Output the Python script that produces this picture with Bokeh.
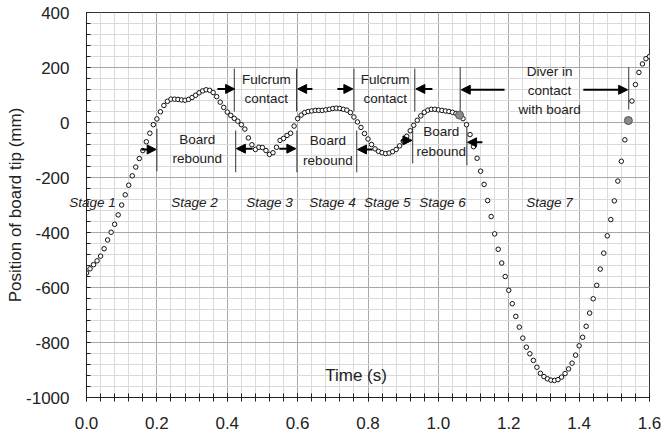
from bokeh.plotting import figure
from bokeh.models import (Range1d, SingleIntervalTicker, FixedTicker, LinearAxis,
                          Arrow, NormalHead)
from bokeh.core.properties import value
from bokeh.embed import file_html
from bokeh.resources import INLINE

# ---- data ----
time_s = [0.00, 0.01, 0.02, 0.03, 0.04, 0.05, 0.06, 0.07, 0.08, 0.09,
          0.10, 0.11, 0.12, 0.13, 0.14, 0.15, 0.16, 0.17, 0.18, 0.19,
          0.20, 0.21, 0.22, 0.23, 0.24, 0.25, 0.26, 0.27, 0.28, 0.29,
          0.30, 0.31, 0.32, 0.33, 0.34, 0.35, 0.36, 0.37, 0.38, 0.39,
          0.40, 0.41, 0.42, 0.43, 0.44, 0.45, 0.46, 0.47, 0.48, 0.49,
          0.50, 0.51, 0.52, 0.53, 0.54, 0.55, 0.56, 0.57, 0.58, 0.59,
          0.60, 0.61, 0.62, 0.63, 0.64, 0.65, 0.66, 0.67, 0.68, 0.69,
          0.70, 0.71, 0.72, 0.73, 0.74, 0.75, 0.76, 0.77, 0.78, 0.79,
          0.80, 0.81, 0.82, 0.83, 0.84, 0.85, 0.86, 0.87, 0.88, 0.89,
          0.90, 0.91, 0.92, 0.93, 0.94, 0.95, 0.96, 0.97, 0.98, 0.99,
          1.00, 1.01, 1.02, 1.03, 1.04, 1.05, 1.06, 1.07, 1.08, 1.09,
          1.10, 1.11, 1.12, 1.13, 1.14, 1.15, 1.16, 1.17, 1.18, 1.19,
          1.20, 1.21, 1.22, 1.23, 1.24, 1.25, 1.26, 1.27, 1.28, 1.29,
          1.30, 1.31, 1.32, 1.33, 1.34, 1.35, 1.36, 1.37, 1.38, 1.39,
          1.40, 1.41, 1.42, 1.43, 1.44, 1.45, 1.46, 1.47, 1.48, 1.49,
          1.50, 1.51, 1.52, 1.53, 1.54, 1.55, 1.56, 1.57, 1.58, 1.59,
          1.60]
position_mm = [-547, -532, -517, -503, -486, -459, -427, -399, -370, -336,
               -300, -263, -228, -194, -162, -131, -102, -70, -39, -8,
               13, 39, 62, 77, 85, 85, 84, 82, 81, 84,
               91, 99, 108, 115, 119, 117, 109, 94, 74, 55,
               38, 26, 15, 5, -8, -24, -56, -81, -98, -90,
               -91, -102, -116, -110, -90, -65, -58, -47, -39, -13,
               14, 27, 36, 40, 42, 44, 44, 44, 46, 48,
               51, 52, 51, 48, 45, 36, 20, 2, -18, -40,
               -60, -80, -96, -105, -110, -113, -111, -106, -98, -85,
               -68, -50, -30, -10, 8, 24, 37, 45, 48, 48,
               46, 44, 42, 40, 37, 33, 27, 14, -8, -44,
               -88, -130, -177, -225, -284, -342, -405, -461, -511, -560,
               -610, -659, -705, -744, -784, -817, -841, -865, -890, -912,
               -924, -932, -937, -938, -935, -926, -913, -896, -875, -846,
               -812, -781, -741, -693, -641, -592, -533, -475, -412, -353,
               -285, -213, -141, -63, 7, 78, 138, 182, 213, 232,
               240]
contact_time = [1.06, 1.54]
contact_pos = [27, 7]

x_tick_values = [0.0, 0.2, 0.4, 0.6, 0.8, 1.0, 1.2, 1.4, 1.6]
x_tick_labels = ["0.0", "0.2", "0.4", "0.6", "0.8", "1.0", "1.2", "1.4", "1.6"]
y_tick_values = [400, 200, 0, -200, -400, -600, -800, -1000]
y_tick_labels = ["400", "200", "0", "-200", "-400", "-600", "-800", "-1000"]

stage_names = ["Stage 2", "Stage 3", "Stage 4", "Stage 5", "Stage 6", "Stage 7"]

FONT = "Liberation Sans"
TXT = "#222222"

p = figure(width=661, height=434, x_range=Range1d(0, 1.6), y_range=Range1d(-1000, 400),
           output_backend="svg", toolbar_location=None,
           min_border_left=86, min_border_right=12, min_border_top=12, min_border_bottom=37)
p.background_fill_color = "white"
p.border_fill_color = "white"
p.outline_line_color = "#333333"
p.outline_line_width = 1

p.xaxis.ticker = SingleIntervalTicker(interval=0.2, num_minor_ticks=5)
p.yaxis.ticker = SingleIntervalTicker(interval=200, num_minor_ticks=5)
p.xgrid.ticker = p.xaxis.ticker
p.ygrid.ticker = p.yaxis.ticker
p.xaxis.major_label_overrides = dict(zip(x_tick_values, x_tick_labels))
p.yaxis.major_label_overrides = dict(zip(y_tick_values, y_tick_labels))

for g in (p.xgrid, p.ygrid):
    g.grid_line_color = "#a8a8a8"
    g.grid_line_width = 1
    g.minor_grid_line_color = "#dadada"
    g.minor_grid_line_width = 1

for ax in (p.xaxis, p.yaxis):
    ax.axis_line_color = "#222222"
    ax.major_tick_line_color = "#222222"
    ax.minor_tick_line_color = "#222222"
    ax.major_label_text_font = FONT
    ax.major_label_text_font_size = "17px"
    ax.major_label_text_color = TXT

p.xaxis.major_tick_in = 4
p.xaxis.major_tick_out = 4
p.xaxis.minor_tick_in = 4
p.xaxis.minor_tick_out = 4
p.xaxis.major_label_standoff = 15

p.yaxis.major_tick_in = 4
p.yaxis.major_tick_out = 0
p.yaxis.minor_tick_in = 4
p.yaxis.minor_tick_out = 0
p.yaxis.major_label_standoff = 17
p.yaxis.axis_label = "Position of board tip (mm)"
p.yaxis.axis_label_text_font = FONT
p.yaxis.axis_label_text_font_size = "17px"
p.yaxis.axis_label_text_font_style = "normal"
p.yaxis.axis_label_text_color = TXT
p.yaxis.axis_label_standoff = -2

# ---- annotation geometry (chart units) ----
vline_x = [0.42, 0.597, 0.76, 0.933, 1.062, 1.541,
           0.2, 0.424, 0.598, 0.768, 0.927, 1.081]
vline_y0 = [196, 196, 196, 196, 201, 201,
            -23, -29, -29, -29, -11, -11]
vline_y1 = [40, 40, 40, 40, 25, 47,
            -177, -181, -181, -181, -149, -156]
p.segment(x0=vline_x, y0=vline_y0, x1=vline_x, y1=vline_y1,
          line_color="#333333", line_width=1)

arrows = [
    (0.372, 122, 0.421, 122), (0.642, 122, 0.600, 122),
    (0.713, 122, 0.757, 122), (0.983, 122, 0.936, 122),
    (1.188, 119, 1.065, 119), (1.412, 119, 1.538, 119),
    (0.156, -98, 0.198, -98), (0.472, -95, 0.426, -95),
    (0.548, -95, 0.595, -95), (0.813, -98, 0.770, -98),
    (0.894, -65, 0.925, -65), (1.125, -72, 1.083, -72),
]
for (xa, ya, xb, yb) in arrows:
    p.add_layout(Arrow(end=NormalHead(size=9, fill_color="black", line_color="black"),
                       x_start=xa, y_start=ya, x_end=xb, y_end=yb,
                       line_color="black", line_width=2))

# data
p.scatter(time_s, position_mm, marker="circle", size=4.5, fill_color="white",
          line_color="#111111", line_width=1)
p.scatter(contact_time, contact_pos, marker="circle", size=8, fill_color="#8a8a8a",
          line_color="#555555", line_width=1)

# multi-line labels
p.text(x=[0.511, 0.849], y=[122, 122], text=["Fulcrum\ncontact", "Fulcrum\ncontact"],
       text_font=value(FONT), text_font_size="13.5px", text_color=TXT,
       text_align="center", text_baseline="middle", text_line_height=1.3)
p.text(x=[0.315, 0.686, 1.008], y=[-96, -102, -69],
       text=["Board\nrebound", "Board\nrebound", "Board\nrebound"],
       text_font=value(FONT), text_font_size="13.5px", text_color=TXT,
       text_align="center", text_baseline="middle", text_line_height=1.3)
p.text(x=[1.316], y=[116], text=["Diver in\ncontact\nwith board"],
       text_font=value(FONT), text_font_size="13.5px", text_color=TXT,
       text_align="center", text_baseline="middle", text_line_height=1.25)

p.text(x=[0.307, 0.52, 0.699, 0.855, 1.012, 1.316], y=[-291] * 6, text=stage_names,
       text_font=value(FONT), text_font_size="13.5px", text_font_style="italic",
       text_color=TXT, text_align="center", text_baseline="middle")

# "Stage 1" overhangs the left edge of the plot area (glyphs are clipped there),
# so it is drawn as the single label of a bare, line-less axis along the top edge
stage1_axis = LinearAxis(ticker=FixedTicker(ticks=[0.017], minor_ticks=[]),
                         major_label_overrides={0.017: "Stage 1"},
                         axis_line_color=None, major_tick_line_color=None,
                         minor_tick_line_color=None, major_tick_in=0, major_tick_out=0,
                         minor_tick_in=0, minor_tick_out=0,
                         major_label_standoff=-197, major_label_text_font=FONT,
                         major_label_text_font_size="13.5px",
                         major_label_text_font_style="italic",
                         major_label_text_color=TXT)
p.add_layout(stage1_axis, "above")

p.text(x=[0.766], y=[-920], text=["Time (s)"], text_font=value(FONT),
       text_font_size="17px", text_color=TXT, text_align="center", text_baseline="middle")

open("out.html", "w").write(file_html(p, INLINE))
